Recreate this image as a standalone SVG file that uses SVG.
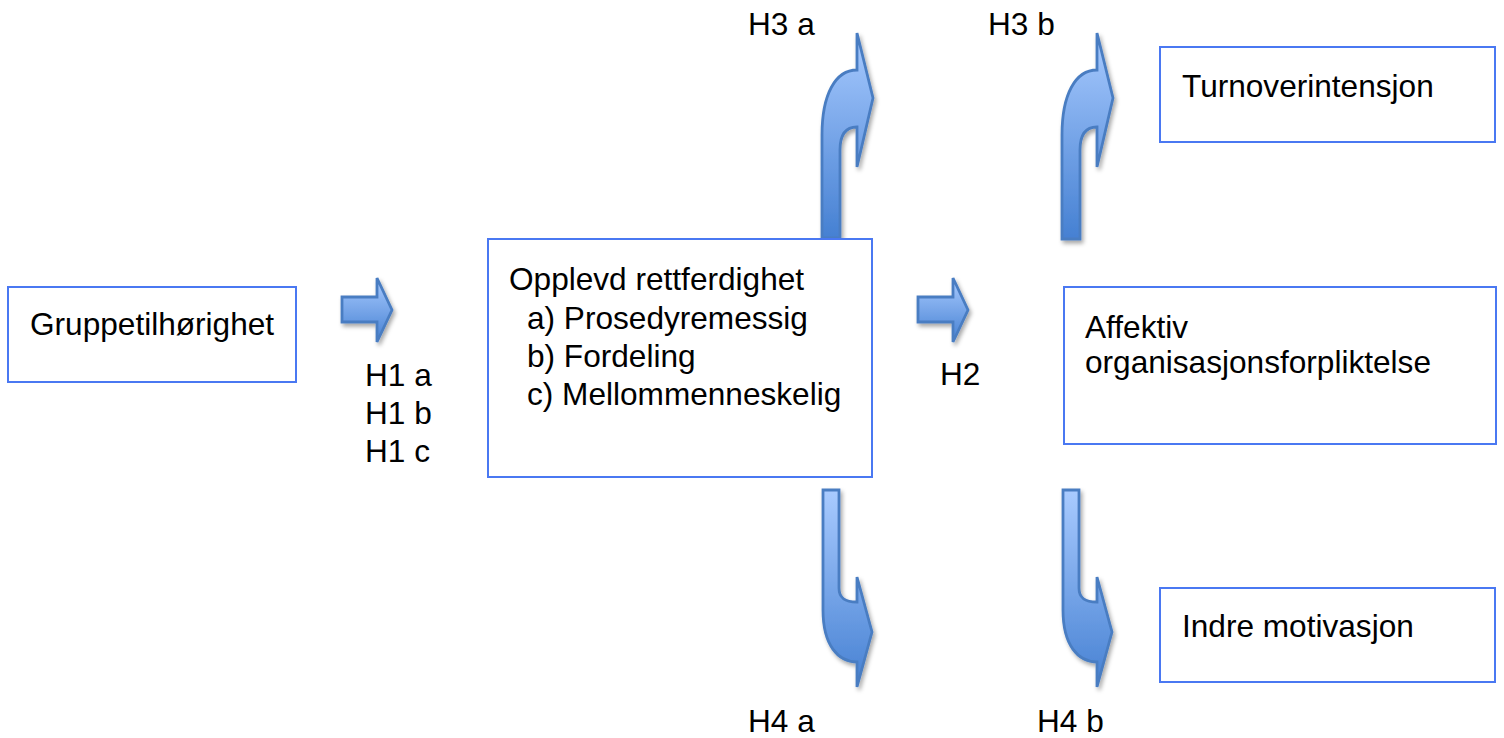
<svg xmlns="http://www.w3.org/2000/svg" width="1504" height="738" viewBox="0 0 1504 738">
<style>
.box{fill:#fff;stroke:#4a78f2;stroke-width:2}
.t{font-family:"Liberation Sans",Arial,Helvetica,sans-serif;font-size:31.6px;fill:#000}
.arr{fill:url(#g);stroke:#4a7dc2;stroke-width:2.8;stroke-linejoin:miter;filter:url(#sh)}
</style>
<defs>
<linearGradient id="g" x1="0" y1="0" x2="0" y2="1">
<stop offset="0" stop-color="#a9cbff"/>
<stop offset="1" stop-color="#4580d2"/>
</linearGradient>
<filter id="sh" x="-30%" y="-10%" width="180%" height="130%">
<feDropShadow dx="2" dy="3" stdDeviation="2.2" flood-color="#000" flood-opacity="0.35"/>
</filter>
</defs>
<rect width="1504" height="738" fill="#fff"/>
<g id="connectors">
<path id="h1" class="arr" d="M342,297 L377,297 L377,278 L392,310 L377,342 L377,322 L342,322 Z"/>
<path id="h2" class="arr" d="M918,297 L953,297 L953,278 L968,310 L953,342 L953,322 L918,322 Z"/>
<path id="h3a" class="arr" d="M822,238 L822,135 C822,95 835,70 857,70 L857,33 L873,98 L857,167 L857,127 C845,127 840,135 840,150 L840,238 Z"/>
<path id="h3b" class="arr" d="M1062,239 L1062,135 C1062,95 1075,70 1097,70 L1097,33 L1113,98 L1097,167 L1097,127 C1085,127 1080,135 1080,150 L1080,239 Z"/>
<path id="h4a" class="arr" d="M823,490 L839,490 L839,588 C839,598 845,602 857,602 L857,577 L872,632 L857,687 L857,662 C838,662 823,645 823,610 Z"/>
<path id="h4b" class="arr" d="M1063,490 L1079,490 L1079,588 C1079,598 1085,602 1097,602 L1097,577 L1112,632 L1097,687 L1097,662 C1078,662 1063,645 1063,610 Z"/>
</g>
<g id="labels">
<text class="t" x="365" y="386">H1 a</text>
<text class="t" x="365" y="424">H1 b</text>
<text class="t" x="365" y="462">H1 c</text>
<text class="t" x="940" y="385">H2</text>
<text class="t" x="748" y="35">H3 a</text>
<text class="t" x="988" y="35">H3 b</text>
<text class="t" x="748" y="732">H4 a</text>
<text class="t" x="1037" y="732">H4 b</text>
</g>
<g id="n-gruppe">
<rect class="box" x="8" y="287" width="288" height="95"/>
<text class="t" x="30" y="335">Gruppetilhørighet</text>
</g>
<g id="n-opplevd">
<rect class="box" x="488" y="239" width="384" height="238"/>
<text class="t" x="509" y="290">Opplevd rettferdighet</text>
<text class="t" x="527" y="329">a) Prosedyremessig</text>
<text class="t" x="527" y="367">b) Fordeling</text>
<text class="t" x="527" y="405">c) Mellommenneskelig</text>
</g>
<g id="n-turnover">
<rect class="box" x="1160" y="47" width="335" height="95"/>
<text class="t" x="1182" y="97">Turnoverintensjon</text>
</g>
<g id="n-affektiv">
<rect class="box" x="1064" y="287" width="432" height="157"/>
<text class="t" x="1085" y="338">Affektiv</text>
<text class="t" x="1085" y="373">organisasjonsforpliktelse</text>
</g>
<g id="n-indre">
<rect class="box" x="1160" y="588" width="335" height="94"/>
<text class="t" x="1182" y="637">Indre motivasjon</text>
</g>
</svg>
